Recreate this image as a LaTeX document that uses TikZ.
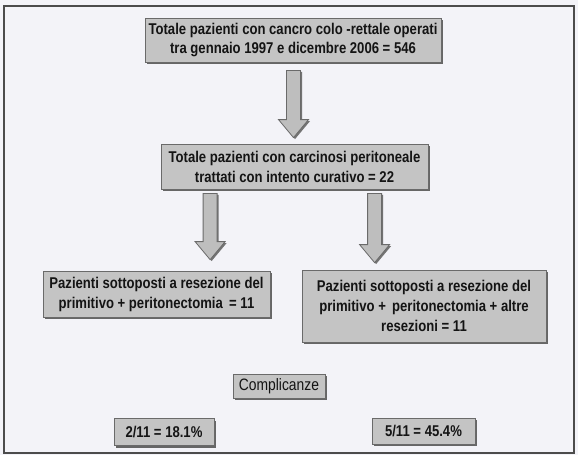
\documentclass[tikz,border=0pt]{standalone}
\usepackage{fontspec}
\setmainfont[FakeStretch=0.84]{Liberation Sans}
\usetikzlibrary{calc,shadows}
\definecolor{bg}{HTML}{F3F3F8}
\definecolor{boxfill}{HTML}{C4C4C4}
\definecolor{boxline}{HTML}{6A6A6A}
\definecolor{arrowfill}{HTML}{BEBEBE}
\tikzset{
  gbox/.style={draw=boxline, line width=0.8pt, fill=boxfill, align=center,
    inner sep=2pt, font=\bfseries\fontsize{15.6}{20}\selectfont, text=black!92,
    drop shadow={shadow xshift=2pt, shadow yshift=-2pt, fill=black!60, opacity=1}},
  barrow/.style={draw=boxline, line width=0.8pt, fill=arrowfill,
    drop shadow={shadow xshift=1.5pt, shadow yshift=-1.5pt, fill=black!55, opacity=1}},
}
\newcommand\blockarr[2]{%
  \path[barrow] let \p1=(#1), \p2=(#2) in
    (\x1-7pt,\y1) -- (\x1+7pt,\y1) -- (\x1+7pt,\y2+18pt) -- (\x1+15pt,\y2+18pt)
    -- (\x1,\y2) -- (\x1-15pt,\y2+18pt) -- (\x1-7pt,\y2+18pt) -- cycle;}
\begin{document}
\begin{tikzpicture}[x=1pt,y=-1pt]
\useasboundingbox (0,0) rectangle (578,455);
\fill[bg] (0,0) rectangle (578,455);
\draw[black!70, line width=1.6pt] (4,6) rectangle (574,453);

\node[gbox, minimum width=296, minimum height=44] (b1) at (293,40)
  {Totale pazienti con cancro colo -rettale operati\\tra gennaio 1997 e dicembre 2006 = 546};
\node[gbox, minimum width=267, minimum height=45] (b2) at (294.5,166.5)
  {Totale pazienti con carcinosi peritoneale\\trattati con intento curativo = 22};
\node[gbox, minimum width=227, minimum height=46] (b3) at (156.5,294)
  {Pazienti sottoposti a resezione del\\primitivo + peritonectomia \,= 11};
\node[gbox, minimum width=244, minimum height=72] (b4) at (424,306)
  {Pazienti sottoposti a resezione del\\primitivo + \,peritonectomia + altre\\resezioni = 11};
\node[gbox, font=\fontsize{16.5}{20}\selectfont, minimum width=92, minimum height=24] (comp) at (279,386)
  {Complicanze};
\node[gbox, minimum width=100, minimum height=27] (r1) at (164,432) {2/11 = 18.1\%};
\node[gbox, minimum width=103, minimum height=26] (r2) at (423.5,431) {5/11 = 45.4\%};

\coordinate (a1s) at ($(b1.south)+(0.5,8)$);
\coordinate (a1t) at ($(b2.north)+(0,-6)$);
\blockarr{a1s}{a1s |- a1t}
\coordinate (a2s) at ($(b2.south west)+(49.5,4)$);
\coordinate (a2t) at ($(b3.north)+(0,-11)$);
\blockarr{a2s}{a2s |- a2t}
\coordinate (a3s) at ($(b2.south west)+(214,4)$);
\coordinate (a3t) at ($(b4.north)+(0,-7)$);
\blockarr{a3s}{a3s |- a3t}
\end{tikzpicture}
\end{document}
